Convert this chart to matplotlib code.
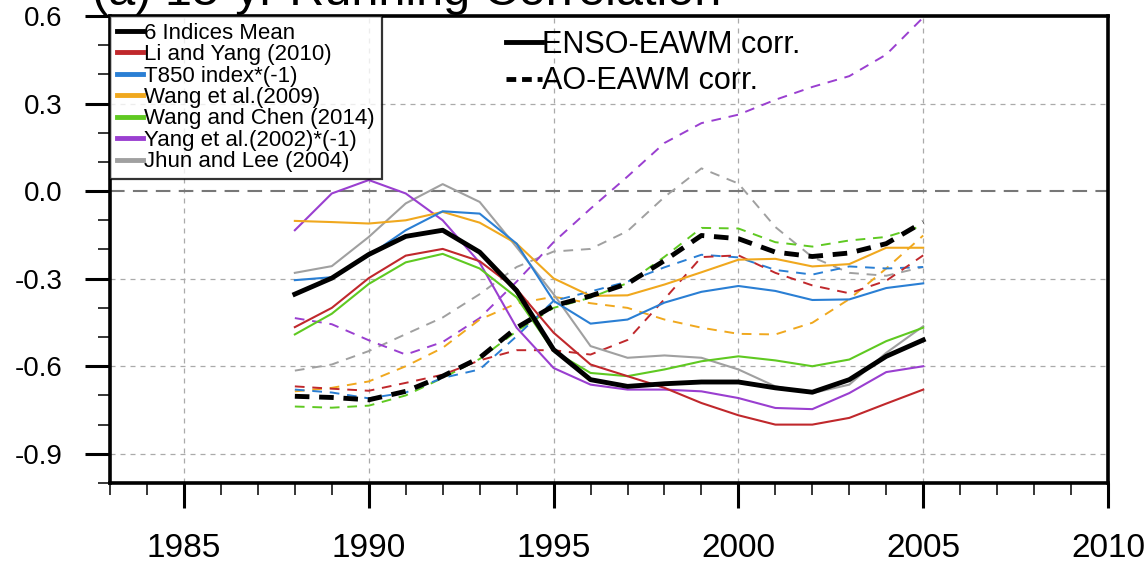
import numpy as np
import matplotlib.pyplot as plt
from matplotlib.lines import Line2D
from matplotlib.ticker import MultipleLocator

plt.rcParams['font.family'] = ['Liberation Sans', 'DejaVu Sans']

years = np.arange(1988, 2006)

# ENSO-EAWM running correlation for each index (solid)
enso_mean = [-0.353, -0.298, -0.217, -0.155, -0.134, -0.209, -0.341, -0.543, -0.646,
             -0.669, -0.660, -0.654, -0.654, -0.674, -0.689, -0.646, -0.566, -0.510]
enso_li = [-0.466, -0.400, -0.298, -0.221, -0.198, -0.240, -0.336, -0.485, -0.594,
           -0.634, -0.674, -0.726, -0.768, -0.800, -0.800, -0.777, -0.728, -0.680]
enso_t850 = [-0.305, -0.295, -0.221, -0.134, -0.069, -0.077, -0.180, -0.376, -0.454,
             -0.440, -0.382, -0.345, -0.325, -0.342, -0.373, -0.371, -0.332, -0.316]
enso_wang09 = [-0.102, -0.106, -0.111, -0.100, -0.071, -0.108, -0.180, -0.299, -0.359,
               -0.357, -0.320, -0.278, -0.235, -0.232, -0.258, -0.250, -0.194, -0.194]
enso_wangchen = [-0.491, -0.420, -0.318, -0.244, -0.215, -0.265, -0.364, -0.548, -0.623,
                 -0.634, -0.611, -0.583, -0.566, -0.580, -0.600, -0.577, -0.514, -0.468]
enso_yang = [-0.134, -0.008, 0.038, -0.008, -0.100, -0.245, -0.468, -0.606, -0.663,
             -0.680, -0.680, -0.686, -0.709, -0.743, -0.747, -0.692, -0.620, -0.600]
enso_jhun = [-0.280, -0.257, -0.157, -0.042, 0.024, -0.037, -0.192, -0.353, -0.531,
             -0.571, -0.563, -0.571, -0.611, -0.669, -0.692, -0.663, -0.554, -0.463]

# AO-EAWM running correlation for each index (dashed)
ao_mean = [-0.703, -0.707, -0.715, -0.686, -0.634, -0.571, -0.468, -0.393, -0.359,
           -0.317, -0.238, -0.152, -0.163, -0.209, -0.224, -0.212, -0.180, -0.106]
ao_li = [-0.669, -0.677, -0.684, -0.657, -0.629, -0.580, -0.545, -0.545, -0.560,
         -0.510, -0.370, -0.226, -0.220, -0.280, -0.323, -0.350, -0.307, -0.220]
ao_t850 = [-0.680, -0.690, -0.710, -0.690, -0.640, -0.611, -0.497, -0.376, -0.344,
           -0.310, -0.261, -0.218, -0.227, -0.270, -0.286, -0.258, -0.265, -0.260]
ao_wang09 = [-0.686, -0.674, -0.652, -0.600, -0.537, -0.440, -0.385, -0.362, -0.384,
             -0.400, -0.440, -0.468, -0.489, -0.491, -0.451, -0.370, -0.265, -0.152]
ao_wangchen = [-0.738, -0.742, -0.735, -0.700, -0.640, -0.575, -0.480, -0.400, -0.365,
               -0.315, -0.225, -0.126, -0.128, -0.175, -0.190, -0.169, -0.157, -0.118]
ao_yang = [-0.435, -0.456, -0.511, -0.560, -0.517, -0.435, -0.310, -0.175, -0.060,
           0.050, 0.165, 0.233, 0.262, 0.313, 0.357, 0.394, 0.468, 0.595]
ao_jhun = [-0.615, -0.594, -0.548, -0.490, -0.433, -0.353, -0.260, -0.207, -0.198,
           -0.137, -0.020, 0.078, 0.026, -0.123, -0.226, -0.280, -0.290, -0.260]

labels = ['6 Indices Mean', 'Li and Yang (2010)', 'T850 index*(-1)', 'Wang et al.(2009)',
          'Wang and Chen (2014)', 'Yang et al.(2002)*(-1)', 'Jhun and Lee (2004)']
colors = ['black', '#c0282c', '#2a7fd4', '#f0a81e', '#5fc921', '#9a3fd0', '#a0a0a0']
enso = [enso_mean, enso_li, enso_t850, enso_wang09, enso_wangchen, enso_yang, enso_jhun]
ao = [ao_mean, ao_li, ao_t850, ao_wang09, ao_wangchen, ao_yang, ao_jhun]

fig = plt.figure(figsize=(11.45, 5.62), dpi=100)
ax = fig.add_axes([0.0961, 0.1406, 0.8716, 0.8309])

# grid and zero line
for xv in [1985, 1990, 1995, 2000, 2005]:
    ax.axvline(xv, color='#aaaaaa', lw=0.9, dashes=(4, 4), zorder=0)
for yv in [0.3, -0.3, -0.6, -0.9]:
    ax.axhline(yv, color='#aaaaaa', lw=0.9, dashes=(4, 4), zorder=0)
ax.axhline(0.0, color='#777777', lw=1.5, dashes=(7, 4), zorder=0)

# colored index curves first, mean curves on top
for i in range(6, 0, -1):
    ax.plot(years, ao[i], color=colors[i], lw=1.4, dashes=(5, 4), zorder=2)
for i in range(6, 0, -1):
    ax.plot(years, enso[i], color=colors[i], lw=1.5, zorder=3, label=labels[i])
ax.plot(years, ao_mean, color='black', lw=3.5, dashes=(3, 2), zorder=4)
ax.plot(years, enso_mean, color='black', lw=3.5, zorder=5, label=labels[0])

ax.set_xlim(1983, 2010)
ax.set_ylim(-1.0, 0.6)
ax.xaxis.set_major_locator(MultipleLocator(5))
ax.xaxis.set_minor_locator(MultipleLocator(1))
ax.yaxis.set_major_locator(MultipleLocator(0.3))
ax.yaxis.set_minor_locator(MultipleLocator(0.1))
ax.set_yticks([0.6, 0.3, 0.0, -0.3, -0.6, -0.9])
ax.set_yticklabels(['0.6', '0.3', '0.0', '-0.3', '-0.6', '-0.9'])
ax.tick_params(axis='both', which='major', direction='out', length=18, width=2.2)
ax.tick_params(axis='both', which='minor', direction='out', length=8.5, width=1.1)
ax.tick_params(axis='x', labelsize=24, pad=18)
ax.tick_params(axis='y', labelsize=20, pad=16)
for s in ax.spines.values():
    s.set_linewidth(2.6)

# index legend
handles = [Line2D([], [], color=c, lw=3.5) for c in colors]
leg1 = ax.legend(handles, labels, loc='upper left', bbox_to_anchor=(0, 1),
                 borderaxespad=0, fontsize=16, handlelength=1.2, handletextpad=0.05,
                 labelspacing=0.02, borderpad=0.3, frameon=True, fancybox=False,
                 edgecolor='black')
leg1.get_frame().set_linewidth(1.6)
ax.add_artist(leg1)

# correlation-type legend
corr_handles = [Line2D([], [], color='black', lw=3.5),
                Line2D([], [], color='black', lw=3.5, dashes=(2, 1.2))]
ax.legend(corr_handles, ['ENSO-EAWM corr.', 'AO-EAWM corr.'], loc='upper left',
          bbox_to_anchor=(0.385, 0.996), borderaxespad=0, fontsize=22,
          handlelength=1.15, handletextpad=0.0, labelspacing=0.2, frameon=False)

fig.text(92 / 1145, 1 - 5 / 562, '(a) 15-yr Running Correlation', fontsize=35,
         va='baseline', ha='left')

fig.savefig('out.png', dpi=100)
